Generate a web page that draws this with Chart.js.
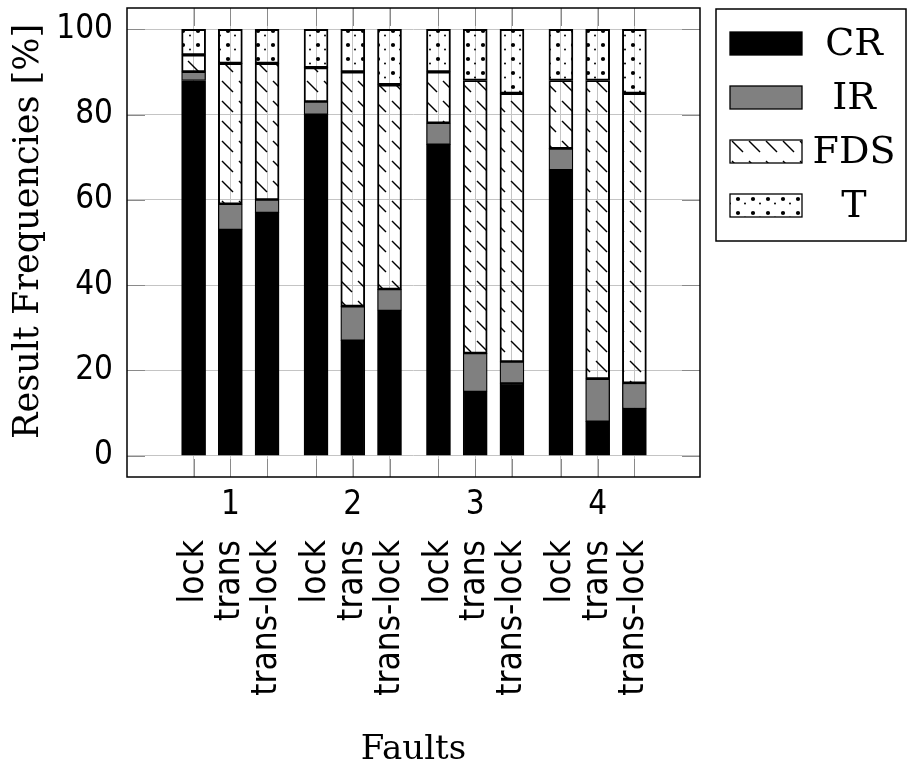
<!DOCTYPE html>
<html>
<head>
<meta charset="utf-8">
<script src="https://cdn.jsdelivr.net/npm/chart.js@4.4.0/dist/chart.umd.min.js"></script>
<style>
html,body{margin:0;padding:0;background:#fff}
</style>
</head>
<body>
<canvas id="chart" width="908" height="767"></canvas>
<script>
// data
const groups=['1','2','3','4']
const groupPos=[1,2,3,4]
const barLabels=['lock','trans','trans-lock','lock','trans','trans-lock','lock','trans','trans-lock','lock','trans','trans-lock']
const barPos=[0.7,1,1.3,1.7,2,2.3,2.7,3,3.3,3.7,4,4.3]
const cr=[88,53,57,80,27,34,73,15,17,67,8,11]
const ir=[2,6,3,3,8,5,5,9,5,5,10,6]
const fds=[4,33,32,8,55,48,12,64,63,16,70,68]
const tt=[6,8,8,9,10,13,10,12,15,12,12,15]
const yTicks=[0,20,40,60,80,100]

const sans="'DejaVu Sans Condensed','DejaVu Sans',sans-serif"
const serif="'DejaVu Serif',serif"
const gridColor='#c4c4c4'
const tickColor='#8a8a8a'
const xMin=0.156, xMax=4.836

const chart=document.querySelector('#chart').getContext('2d')

// fill patterns
function hatch(){
    const c=document.createElement('canvas')
    c.width=17; c.height=20
    const g=c.getContext('2d')
    g.strokeStyle='#000'; g.lineWidth=1.4
    g.beginPath(); g.moveTo(1,1); g.lineTo(12,12); g.stroke()
    return chart.createPattern(c,'repeat')
}
function dots(){
    const c=document.createElement('canvas')
    c.width=15; c.height=14
    const g=c.getContext('2d')
    g.fillStyle='#000'
    g.beginPath(); g.arc(3,3,2.1,0,Math.PI*2); g.fill()
    g.beginPath(); g.arc(10,7.5,1,0,Math.PI*2); g.fill()
    return chart.createPattern(c,'repeat')
}

const toXY=vals=>vals.map((v,i)=>({x:barPos[i],y:v}))

// frame, inner ticks and the legend
const extras={
    id:'extras',
    afterDraw(ch){
        const c=ch.ctx, a=ch.chartArea
        c.save()
        c.strokeStyle=tickColor; c.lineWidth=1
        const ys=ch.scales.y, xs=ch.scales.x
        yTicks.forEach(v=>{
            const p=Math.round(ys.getPixelForValue(v))+0.5
            c.beginPath(); c.moveTo(a.left,p); c.lineTo(a.left+18,p)
            c.moveTo(a.right,p); c.lineTo(a.right-18,p); c.stroke()
        })
        barPos.forEach(v=>{
            const p=Math.round(xs.getPixelForValue(v))+0.5
            c.beginPath(); c.moveTo(p,a.top); c.lineTo(p,a.top+18)
            c.moveTo(p,a.bottom); c.lineTo(p,a.bottom-18); c.stroke()
        })
        c.strokeStyle='#000'; c.lineWidth=1.5
        c.strokeRect(a.left,a.top,a.right-a.left,a.bottom-a.top)

        // legend
        const lx=a.right+16, ly=a.top+1
        c.strokeRect(lx,ly,190,232)
        c.font='38px '+serif
        c.textAlign='center'; c.textBaseline='middle'
        ch.data.datasets.forEach((ds,i)=>{
            const sy=ly+23+i*54
            c.fillStyle=ds.backgroundColor
            c.fillRect(lx+14,sy,72,23)
            c.lineWidth=1.3
            c.strokeRect(lx+14,sy,72,23)
            c.fillStyle='#000'
            c.fillText(ds.label,lx+138,sy+13)
        })
        c.restore()
    }
}

new Chart(chart,{
    type:'bar',
    data:{
        datasets:[
            {label:'CR',data:toXY(cr),backgroundColor:'#000',stack:'s'},
            {label:'IR',data:toXY(ir),backgroundColor:'#808080',stack:'s'},
            {label:'FDS',data:toXY(fds),backgroundColor:hatch(),stack:'s'},
            {label:'T',data:toXY(tt),backgroundColor:dots(),stack:'s'}
        ]
    },
    options:{
        responsive:false,
        animation:false,
        devicePixelRatio:1,
        layout:{padding:{top:8,right:208,left:0,bottom:0}},
        datasets:{bar:{barThickness:24,borderColor:'#000',borderWidth:1.3,borderSkipped:false}},
        plugins:{legend:{display:false},tooltip:{enabled:false}},
        scales:{
            x:{
                type:'linear',position:'bottom',min:xMin,max:xMax,stacked:true,weight:1,offset:false,
                afterBuildTicks:s=>{s.ticks=barPos.map(v=>({value:v}))},
                afterFit:s=>{s.height=235;s.paddingLeft=0;s.paddingRight=0},
                grid:{color:gridColor,drawTicks:false,offset:false},
                border:{display:false},
                ticks:{autoSkip:false,minRotation:90,maxRotation:90,padding:8,color:'#000',
                    font:{family:sans,size:35},callback:(v,i)=>barLabels[i]},
                title:{display:true,text:'Faults',color:'#000',font:{family:serif,size:34,lineHeight:1},padding:{top:0,bottom:0}}
            },
            xg:{
                type:'linear',position:'bottom',min:xMin,max:xMax,weight:0,offset:false,
                afterBuildTicks:s=>{s.ticks=groupPos.map(v=>({value:v}))},
                afterFit:s=>{s.height=55;s.paddingLeft=0;s.paddingRight=0},
                grid:{display:false,drawTicks:false,offset:false},
                border:{display:false},
                ticks:{autoSkip:false,minRotation:0,maxRotation:0,padding:9,color:'#000',
                    font:{family:sans,size:33},callback:(v,i)=>groups[i]}
            },
            y:{
                stacked:true,min:-5,max:105,
                afterBuildTicks:s=>{s.ticks=yTicks.map(v=>({value:v}))},
                afterFit:s=>{s.width=127;s.paddingTop=0;s.paddingBottom=0},
                grid:{color:gridColor,drawTicks:false},
                border:{display:false},
                ticks:{padding:14,color:'#000',font:{family:sans,size:33}},
                title:{display:true,text:'\u00a0\u00a0Result Frequencies [%]',color:'#000',
                    font:{family:serif,size:35},padding:{top:8,bottom:0}}
            }
        }
    },
    plugins:[extras]
})
</script>
</body>
</html>
